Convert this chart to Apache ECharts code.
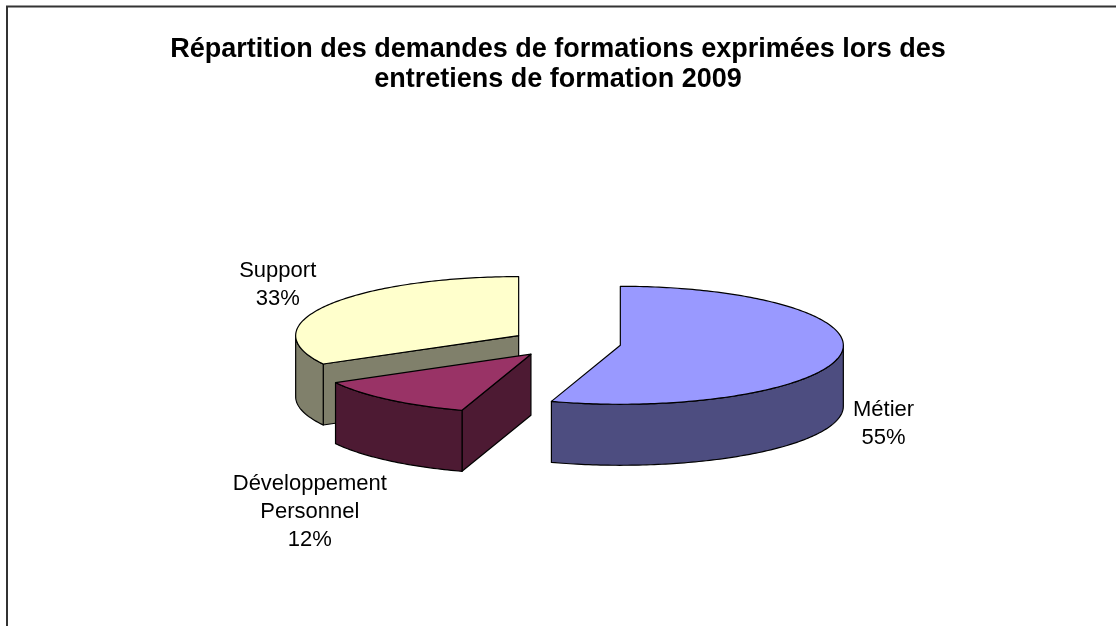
<!DOCTYPE html>
<html>
<head>
<meta charset="utf-8">
<script src="https://cdn.jsdelivr.net/npm/echarts@6/dist/echarts.min.js"></script>
<style>
html,body{margin:0;padding:0;background:#fff;}
#chart{width:1116px;height:626px;}
</style>
</head>
<body>
<div id="chart"></div>
<script>
// ---- data ----
const categories = ['Métier', 'Développement Personnel', 'Support'];
const values = [55, 12, 33];
const titleLines = ['Répartition des demandes de formations exprimées lors des', 'entretiens de formation 2009'];

// ---- styles / layout ----
const topColors = ['#9999FF', '#993366', '#FFFFCC'];
const sideColors = ['#4D4D80', '#4D1A33', '#80806B'];
const labelWrap = [['Métier'], ['Développement', 'Personnel'], ['Support']];
const labelOffsets = [[43, 69], [-79, 112], [-49, -21]];
const PIE = { cx: 566, cy: 343, rx: 223, ry: 59, depth: 61, explode: 55 };

const total = values.reduce((a, b) => a + b, 0);
const D2R = Math.PI / 180;

function sliceInfo(i) {
  let acc = 0;
  for (let j = 0; j < i; j++) acc += values[j];
  const a0 = acc / total * 360;
  const a1 = (acc + values[i]) / total * 360;
  const mid = (a0 + a1) / 2;
  const k = PIE.ry / PIE.rx;
  const cx = PIE.cx + PIE.explode * Math.sin(mid * D2R);
  const cy = PIE.cy - PIE.explode * k * Math.cos(mid * D2R);
  return { a0, a1, mid, cx, cy };
}
function pt(cx, cy, deg, dz) {
  return [cx + PIE.rx * Math.sin(deg * D2R), cy - PIE.ry * Math.cos(deg * D2R) + (dz || 0)];
}
function arcPts(cx, cy, from, to, dz) {
  const pts = [];
  const n = Math.max(2, Math.ceil(Math.abs(to - from)));
  for (let s = 0; s <= n; s++) pts.push(pt(cx, cy, from + (to - from) * s / n, dz));
  return pts;
}

// back-to-front ordering by slice centre y
const order = values.map((v, i) => [i, sliceInfo(i).cy]).sort((a, b) => a[1] - b[1]).map(d => d[0]);

const lineStyle = { stroke: '#000', lineWidth: 1.2, lineJoin: 'round' };

function renderItem(params, api) {
  const i = params.dataIndex;
  const s = sliceInfo(i);
  const base = order.indexOf(i) * 10 + 1;
  const dep = PIE.depth;
  const children = [];
  // radial faces
  const faces = [
    { ang: s.a0, normal: s.a0 - 90 },
    { ang: s.a1, normal: s.a1 + 90 }
  ];
  faces.forEach(f => {
    if (Math.cos(f.normal * D2R) < -1e-6) {
      const e = pt(s.cx, s.cy, f.ang, 0);
      children.push({
        type: 'polygon', z2: base,
        shape: { points: [[s.cx, s.cy], e, [e[0], e[1] + dep], [s.cx, s.cy + dep]] },
        style: Object.assign({ fill: sideColors[i] }, lineStyle)
      });
    }
  });
  // outer wall (front half 90..270)
  const w0 = Math.max(s.a0, 90), w1 = Math.min(s.a1, 270);
  if (w1 > w0) {
    const topArc = arcPts(s.cx, s.cy, w0, w1, 0);
    const botArc = arcPts(s.cx, s.cy, w0, w1, dep).reverse();
    children.push({
      type: 'polygon', z2: base + 1,
      shape: { points: topArc.concat(botArc) },
      style: Object.assign({ fill: sideColors[i] }, lineStyle)
    });
  }
  // top face
  children.push({
    type: 'polygon', z2: base + 2,
    shape: { points: [[s.cx, s.cy]].concat(arcPts(s.cx, s.cy, s.a0, s.a1, 0)) },
    style: Object.assign({ fill: topColors[i] }, lineStyle)
  });
  // label
  const rim = pt(s.cx, s.cy, s.mid, 0);
  const pct = Math.round(values[i] / total * 100) + '%';
  children.push({
    type: 'text', z2: 100,
    style: {
      text: labelWrap[i].concat([pct]).join('\n'),
      x: rim[0] + labelOffsets[i][0], y: rim[1] + labelOffsets[i][1],
      align: 'center', verticalAlign: 'middle',
      fill: '#000', fontSize: 22, lineHeight: 28,
      fontFamily: '"Liberation Sans", Arial, sans-serif'
    }
  });
  return { type: 'group', children };
}

const chart = echarts.init(document.getElementById('chart'), null, { renderer: 'canvas' });
chart.setOption({
  backgroundColor: '#fff',
  animation: false,
  title: {
    text: titleLines.join('\n'),
    left: 'center', top: 30,
    textStyle: {
      fontFamily: '"Liberation Sans", Arial, sans-serif',
      fontWeight: 'bold', fontSize: 27, lineHeight: 30, color: '#000'
    }
  },
  graphic: [{
    type: 'rect', silent: true,
    shape: { x: 7, y: 6.5, width: 1300, height: 800 },
    style: { fill: 'none', stroke: '#333', lineWidth: 2 }
  }],
  series: [{
    type: 'custom',
    name: 'Demandes',
    coordinateSystem: 'none',
    data: values.map((v, i) => ({ name: categories[i], value: v })),
    renderItem: renderItem
  }]
});
</script>
</body>
</html>
